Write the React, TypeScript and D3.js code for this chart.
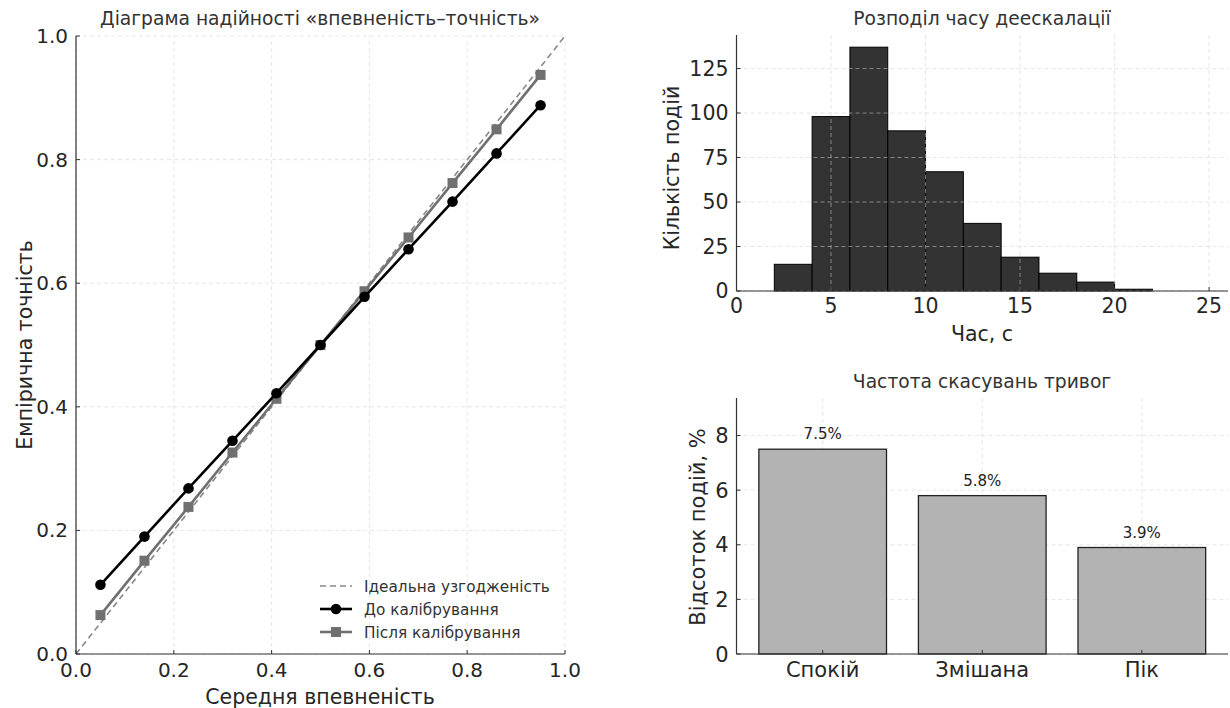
import React from 'react';
import * as d3 from 'd3';

// reliability diagram
const confidence = [0.05, 0.14, 0.23, 0.32, 0.41, 0.5, 0.59, 0.68, 0.77, 0.86, 0.95];
const accuracyBefore = [0.112, 0.19, 0.268, 0.345, 0.422, 0.5, 0.578, 0.655, 0.732, 0.81, 0.888];
const accuracyAfter = [0.063, 0.151, 0.238, 0.326, 0.413, 0.5, 0.587, 0.674, 0.762, 0.849, 0.937];
const calibTicks = [0, 0.2, 0.4, 0.6, 0.8, 1.0];

// de-escalation time histogram
const binEdges = [2, 4, 6, 8, 10, 12, 14, 16, 18, 20, 22];
const binCounts = [15, 98, 137, 90, 67, 38, 19, 10, 5, 1];
const histXTicks = [0, 5, 10, 15, 20, 25];
const histYTicks = [0, 25, 50, 75, 100, 125];

// alarm cancel rate
const loadLevels = ['Спокій', 'Змішана', 'Пік'];
const cancelRates = [7.5, 5.8, 3.9];
const barYTicks = [0, 2, 4, 6, 8];

const FONT = '"DejaVu Sans", sans-serif';
const AXIS = '#333';
const TXT = '#262626';
const TICK_FS = 20;
const LABEL_FS = 20.5;
const TITLE_FS = 18.7;
const GRID = { stroke: '#d0d0d0', strokeOpacity: 0.6, strokeDasharray: '4,3', strokeWidth: 0.9 };

const Spines = ({ x0, x1, y0, y1 }: any) => (
  <g stroke={AXIS} strokeWidth={1.2} fill="none">
    <line x1={x0} x2={x0} y1={y0} y2={y1} />
    <line x1={x0} x2={x1} y1={y1} y2={y1} />
  </g>
);

const Reliability = () => {
  const x = d3.scaleLinear().domain([0, 1]).range([76, 565]);
  const y = d3.scaleLinear().domain([0, 1]).range([654, 36]);
  const line = d3.line<number>().x((_, i) => x(confidence[i]));
  const before = line.y((d) => y(d))(accuracyBefore) as string;
  const after = line.y((d) => y(d))(accuracyAfter) as string;
  const legend = [
    { label: 'Ідеальна узгодженість', kind: 'ideal' },
    { label: 'До калібрування', kind: 'before' },
    { label: 'Після калібрування', kind: 'after' },
  ];
  return (
    <g>
      {calibTicks.map((t) => (
        <g key={'g' + t}>
          <line x1={x(t)} x2={x(t)} y1={y(0)} y2={y(1)} {...GRID} />
          <line x1={x(0)} x2={x(1)} y1={y(t)} y2={y(t)} {...GRID} />
        </g>
      ))}
      <line x1={x(0)} y1={y(0)} x2={x(1)} y2={y(1)} stroke="#888" strokeWidth={1.6} strokeDasharray="6,4" />
      <path d={after} fill="none" stroke="#707070" strokeWidth={2.6} />
      {accuracyAfter.map((v, i) => (
        <rect key={'a' + i} x={x(confidence[i]) - 5} y={y(v) - 5} width={10} height={10} fill="#707070" />
      ))}
      <path d={before} fill="none" stroke="#000" strokeWidth={2.6} />
      {accuracyBefore.map((v, i) => (
        <circle key={'b' + i} cx={x(confidence[i])} cy={y(v)} r={5.3} fill="#000" />
      ))}
      <Spines x0={x(0)} x1={x(1)} y0={y(1)} y1={y(0)} />
      {calibTicks.map((t) => (
        <g key={'t' + t} fontFamily={FONT} fontSize={TICK_FS} fill={TXT}>
          <line x1={x(t)} x2={x(t)} y1={y(0)} y2={y(0) - 4} stroke={AXIS} />
          <line x1={x(0)} x2={x(0) + 4} y1={y(t)} y2={y(t)} stroke={AXIS} />
          <text x={x(t)} y={y(0) + 23} textAnchor="middle">{t.toFixed(1)}</text>
          <text x={x(0) - 8} y={y(t) + 7} textAnchor="end">{t.toFixed(1)}</text>
        </g>
      ))}
      <text x={320} y={25} textAnchor="middle" fontFamily={FONT} fontSize={TITLE_FS} fill="#333">
        Діаграма надійності «впевненість–точність»
      </text>
      <text x={320} y={704} textAnchor="middle" fontFamily={FONT} fontSize={LABEL_FS} fill={TXT}>
        Середня впевненість
      </text>
      <text transform="translate(32,345) rotate(-90)" textAnchor="middle" fontFamily={FONT} fontSize={LABEL_FS} fill={TXT}>
        Емпірична точність
      </text>
      {legend.map((l, i) => {
        const ly = 586 + i * 23;
        return (
          <g key={l.kind}>
            {l.kind === 'ideal' && (
              <line x1={320} x2={352} y1={ly} y2={ly} stroke="#888" strokeWidth={1.6} strokeDasharray="6,4" />
            )}
            {l.kind === 'before' && (
              <g>
                <line x1={320} x2={352} y1={ly} y2={ly} stroke="#000" strokeWidth={2.6} />
                <circle cx={336} cy={ly} r={5.3} fill="#000" />
              </g>
            )}
            {l.kind === 'after' && (
              <g>
                <line x1={320} x2={352} y1={ly} y2={ly} stroke="#707070" strokeWidth={2.6} />
                <rect x={331} y={ly - 5} width={10} height={10} fill="#707070" />
              </g>
            )}
            <text x={364} y={ly + 5.5} fontFamily={FONT} fontSize={15.3} fill="#333">{l.label}</text>
          </g>
        );
      })}
    </g>
  );
};

const Histogram = () => {
  const x = d3.scaleLinear().domain([0, 26]).range([736.5, 1228]);
  const y = d3.scaleLinear().domain([0, 137 * 1.05]).range([291, 35]);
  return (
    <g>
      {binCounts.map((c, i) => (
        <rect
          key={i}
          x={x(binEdges[i])}
          y={y(c)}
          width={x(binEdges[i + 1]) - x(binEdges[i])}
          height={y(0) - y(c)}
          fill="#333"
          stroke="#000"
          strokeWidth={1}
        />
      ))}
      {histXTicks.map((t) => (
        <line key={'gx' + t} x1={x(t)} x2={x(t)} y1={y(0)} y2={y.range()[1]} {...GRID} />
      ))}
      {histYTicks.map((t) => (
        <line key={'gy' + t} x1={x(0)} x2={x(26)} y1={y(t)} y2={y(t)} {...GRID} />
      ))}
      <Spines x0={x(0)} x1={x(26)} y0={y.range()[1]} y1={y(0)} />
      {histXTicks.map((t) => (
        <g key={'tx' + t}>
          <line x1={x(t)} x2={x(t)} y1={y(0)} y2={y(0) - 4} stroke={AXIS} />
          <text x={x(t)} y={y(0) + 22} textAnchor="middle" fontFamily={FONT} fontSize={LABEL_FS} fill={TXT}>{t}</text>
        </g>
      ))}
      {histYTicks.map((t) => (
        <g key={'ty' + t}>
          <line x1={x(0)} x2={x(0) + 4} y1={y(t)} y2={y(t)} stroke={AXIS} />
          <text x={x(0) - 8} y={y(t) + 7} textAnchor="end" fontFamily={FONT} fontSize={LABEL_FS} fill={TXT}>{t}</text>
        </g>
      ))}
      <text x={982} y={25} textAnchor="middle" fontFamily={FONT} fontSize={TITLE_FS} fill="#333">
        Розподіл часу деескалації
      </text>
      <text x={982} y={341} textAnchor="middle" fontFamily={FONT} fontSize={LABEL_FS} fill={TXT}>Час, с</text>
      <text transform="translate(679,168) rotate(-90)" textAnchor="middle" fontFamily={FONT} fontSize={LABEL_FS} fill={TXT}>
        Кількість подій
      </text>
    </g>
  );
};

const CancelBars = () => {
  const x = d3.scaleLinear().domain([-0.54, 2.54]).range([736.5, 1228]);
  const y = d3.scaleLinear().domain([0, 7.5 * 1.25]).range([654, 398]);
  const bw = 0.8;
  return (
    <g>
      {loadLevels.map((_, i) => (
        <line key={'gx' + i} x1={x(i)} x2={x(i)} y1={y(0)} y2={y.range()[1]} {...GRID} />
      ))}
      {barYTicks.map((t) => (
        <line key={'gy' + t} x1={x(-0.54)} x2={x(2.54)} y1={y(t)} y2={y(t)} {...GRID} />
      ))}
      {cancelRates.map((v, i) => (
        <g key={loadLevels[i]}>
          <rect
            x={x(i - bw / 2)}
            y={y(v)}
            width={x(i + bw / 2) - x(i - bw / 2)}
            height={y(0) - y(v)}
            fill="#b3b3b3"
            stroke="#222"
            strokeWidth={1.3}
          />
          <text x={x(i)} y={y(v) - 10} textAnchor="middle" fontFamily={FONT} fontSize={15} fill="#222">
            {v.toFixed(1)}%
          </text>
        </g>
      ))}
      <Spines x0={x(-0.54)} x1={x(2.54)} y0={y.range()[1]} y1={y(0)} />
      {loadLevels.map((c, i) => (
        <g key={'tx' + c}>
          <line x1={x(i)} x2={x(i)} y1={y(0)} y2={y(0) - 4} stroke={AXIS} />
          <text x={x(i)} y={y(0) + 23} textAnchor="middle" fontFamily={FONT} fontSize={21} fill={TXT}>{c}</text>
        </g>
      ))}
      {barYTicks.map((t) => (
        <g key={'ty' + t}>
          <line x1={x(-0.54)} x2={x(-0.54) + 4} y1={y(t)} y2={y(t)} stroke={AXIS} />
          <text x={x(-0.54) - 8} y={y(t) + 7.5} textAnchor="end" fontFamily={FONT} fontSize={21} fill={TXT}>{t}</text>
        </g>
      ))}
      <text x={982} y={388} textAnchor="middle" fontFamily={FONT} fontSize={TITLE_FS} fill="#333">
        Частота скасувань тривог
      </text>
      <text transform="translate(705,527) rotate(-90)" textAnchor="middle" fontFamily={FONT} fontSize={21} fill={TXT}>
        Відсоток подій, %
      </text>
    </g>
  );
};

export default function App() {
  return (
    <svg
      width={1230}
      height={708}
      style={{ position: 'absolute', left: 0, top: 0, background: '#fff' }}
    >
      <rect width={1230} height={708} fill="#fff" />
      <Reliability />
      <Histogram />
      <CancelBars />
    </svg>
  );
}
